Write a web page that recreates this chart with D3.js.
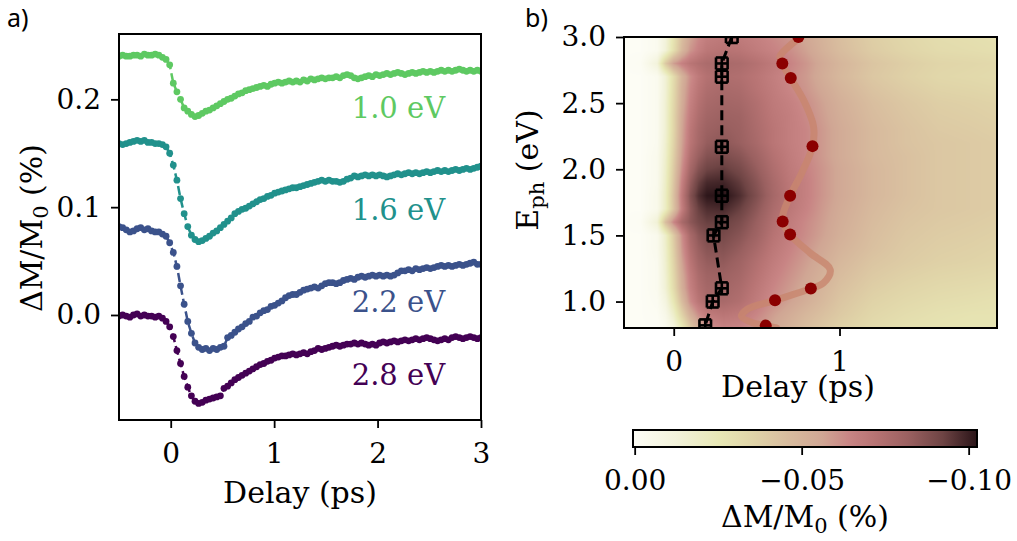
<!DOCTYPE html>
<html>
<head>
<meta charset="utf-8">
<script src="https://cdn.jsdelivr.net/npm/d3@7"></script>
<style>
  body { margin: 0; background: #fff; }
</style>
</head>
<body>
<svg id="fig" width="1017" height="541"></svg>
<script>
// ---------- panel a) : delay traces ----------
var delays = d3.range(101).map(function(i){ return -0.5 + 0.035 * i; });
var traceNames  = ["1.0 eV", "1.6 eV", "2.2 eV", "2.8 eV"];
var traceColors = ["#5ec962", "#21918c", "#3b528b", "#440154"];
var traceLabelY = [0.183, 0.088, 0.003, -0.065];
var traceLabelX = 1.75;

var trace10 = [
  0.240, 0.241, 0.240, 0.240, 0.241, 0.241, 0.240, 0.242, 0.241, 0.241,
  0.242, 0.241, 0.239, 0.237, 0.232, 0.215, 0.207, 0.200, 0.192, 0.189,
  0.186, 0.184, 0.185, 0.187, 0.189, 0.190, 0.192, 0.194, 0.196, 0.198,
  0.200, 0.201, 0.203, 0.205, 0.206, 0.208, 0.209, 0.210, 0.211, 0.212,
  0.213, 0.212, 0.214, 0.215, 0.216, 0.215, 0.216, 0.217, 0.216, 0.217,
  0.216, 0.218, 0.217, 0.219, 0.218, 0.219, 0.220, 0.219, 0.220, 0.220,
  0.221, 0.220, 0.222, 0.223, 0.222, 0.220, 0.219, 0.220, 0.221, 0.222,
  0.221, 0.223, 0.222, 0.223, 0.224, 0.223, 0.224, 0.225, 0.224, 0.223,
  0.224, 0.225, 0.224, 0.225, 0.226, 0.225, 0.226, 0.225, 0.226, 0.227,
  0.226, 0.227, 0.226, 0.227, 0.228, 0.227, 0.226, 0.227, 0.226, 0.227,
  0.226];
var trace16 = [
  0.159, 0.158, 0.159, 0.160, 0.161, 0.162, 0.161, 0.162, 0.160, 0.160,
  0.159, 0.159, 0.158, 0.156, 0.150, 0.139, 0.125, 0.108, 0.094, 0.082,
  0.074, 0.070, 0.068, 0.069, 0.071, 0.073, 0.076, 0.078, 0.081, 0.084,
  0.087, 0.090, 0.094, 0.096, 0.098, 0.099, 0.101, 0.103, 0.105, 0.107,
  0.108, 0.110, 0.111, 0.113, 0.114, 0.115, 0.116, 0.117, 0.118, 0.118,
  0.119, 0.120, 0.121, 0.122, 0.123, 0.124, 0.125, 0.124, 0.125, 0.124,
  0.124, 0.123, 0.124, 0.126, 0.127, 0.129, 0.128, 0.129, 0.130, 0.129,
  0.130, 0.129, 0.130, 0.129, 0.128, 0.129, 0.130, 0.131, 0.130, 0.131,
  0.132, 0.131, 0.132, 0.131, 0.132, 0.133, 0.132, 0.133, 0.134, 0.133,
  0.134, 0.133, 0.134, 0.135, 0.134, 0.135, 0.136, 0.135, 0.136, 0.137,
  0.138];
var trace22 = [
  0.082, 0.081, 0.079, 0.077, 0.078, 0.080, 0.081, 0.079, 0.080, 0.078,
  0.077, 0.077, 0.075, 0.073, 0.067, 0.058, 0.045, 0.027, 0.010, -0.006,
  -0.017, -0.026, -0.030, -0.032, -0.031, -0.033, -0.031, -0.032, -0.030, -0.029,
  -0.021, -0.019, -0.016, -0.013, -0.011, -0.008, -0.006, -0.002, -0.001, 0.002,
  0.004, 0.005, 0.008, 0.009, 0.011, 0.013, 0.016, 0.018, 0.019, 0.019,
  0.021, 0.023, 0.024, 0.025, 0.026, 0.025, 0.027, 0.029, 0.030, 0.030,
  0.029, 0.030, 0.032, 0.033, 0.034, 0.033, 0.035, 0.036, 0.035, 0.036,
  0.037, 0.036, 0.037, 0.036, 0.037, 0.036, 0.037, 0.039, 0.041, 0.041,
  0.042, 0.041, 0.043, 0.042, 0.043, 0.044, 0.043, 0.044, 0.045, 0.046,
  0.045, 0.046, 0.045, 0.046, 0.047, 0.046, 0.047, 0.048, 0.049, 0.047,
  0.047];
var trace28 = [
  -0.001, 0.000, -0.001, -0.002, 0.000, 0.001, -0.001, 0.000, -0.001, -0.001,
  -0.002, -0.001, -0.003, -0.006, -0.011, -0.020, -0.033, -0.045, -0.057, -0.067,
  -0.075, -0.080, -0.082, -0.081, -0.079, -0.078, -0.077, -0.076, -0.075, -0.068,
  -0.066, -0.063, -0.060, -0.058, -0.056, -0.054, -0.052, -0.050, -0.048, -0.046,
  -0.045, -0.043, -0.042, -0.040, -0.039, -0.038, -0.038, -0.037, -0.036, -0.037,
  -0.036, -0.035, -0.036, -0.034, -0.033, -0.031, -0.032, -0.031, -0.030, -0.029,
  -0.028, -0.029, -0.028, -0.027, -0.027, -0.026, -0.027, -0.026, -0.027, -0.028,
  -0.027, -0.028, -0.026, -0.025, -0.026, -0.025, -0.024, -0.025, -0.024, -0.023,
  -0.024, -0.023, -0.022, -0.023, -0.022, -0.021, -0.022, -0.023, -0.024, -0.023,
  -0.022, -0.023, -0.021, -0.020, -0.021, -0.022, -0.021, -0.020, -0.021, -0.022,
  -0.021];
var traces = [trace10, trace16, trace22, trace28];

// ---------- panel b) : map E_ph vs delay ----------
var hmDelays = [-0.3, -0.2, -0.1, -0.05, 0, 0.05, 0.1, 0.15, 0.2, 0.3, 0.4, 0.5,
                0.6, 0.7, 0.8, 0.9, 1.0, 1.2, 1.4, 1.6, 1.8, 1.95];
var hmEnergies = [3.0, 2.9, 2.8, 2.7, 2.6, 2.5, 2.4, 2.3, 2.2, 2.1, 2.0, 1.9,
                  1.8, 1.7, 1.6, 1.5, 1.4, 1.3, 1.2, 1.1, 1.0, 0.9, 0.8];
var hmValues = [
  [0, 0, -0.003, -0.012, -0.028, -0.045, -0.056, -0.063, -0.067, -0.069, -0.068, -0.066, -0.063, -0.060, -0.055, -0.050, -0.045, -0.038, -0.034, -0.031, -0.030, -0.029],
  [0, 0, -0.003, -0.013, -0.030, -0.048, -0.060, -0.066, -0.070, -0.072, -0.071, -0.068, -0.065, -0.062, -0.057, -0.051, -0.046, -0.039, -0.035, -0.032, -0.031, -0.030],
  [0, -0.001, -0.012, -0.040, -0.058, -0.066, -0.071, -0.074, -0.076, -0.077, -0.076, -0.073, -0.069, -0.065, -0.060, -0.054, -0.049, -0.042, -0.038, -0.035, -0.034, -0.033],
  [0, 0, -0.003, -0.014, -0.032, -0.050, -0.062, -0.069, -0.073, -0.075, -0.074, -0.071, -0.067, -0.063, -0.059, -0.053, -0.048, -0.041, -0.037, -0.034, -0.033, -0.032],
  [0, 0, -0.003, -0.014, -0.033, -0.052, -0.064, -0.071, -0.075, -0.077, -0.076, -0.072, -0.068, -0.064, -0.060, -0.055, -0.050, -0.043, -0.039, -0.036, -0.035, -0.034],
  [0, 0, -0.003, -0.015, -0.034, -0.053, -0.066, -0.073, -0.077, -0.079, -0.078, -0.074, -0.069, -0.066, -0.062, -0.057, -0.052, -0.045, -0.041, -0.038, -0.037, -0.036],
  [0, 0, -0.003, -0.015, -0.035, -0.055, -0.068, -0.075, -0.079, -0.081, -0.080, -0.075, -0.070, -0.067, -0.063, -0.058, -0.053, -0.046, -0.042, -0.039, -0.038, -0.037],
  [0, 0, -0.003, -0.015, -0.035, -0.056, -0.070, -0.077, -0.081, -0.083, -0.081, -0.076, -0.071, -0.067, -0.064, -0.059, -0.054, -0.047, -0.043, -0.040, -0.039, -0.038],
  [0, 0, -0.003, -0.016, -0.036, -0.057, -0.071, -0.078, -0.083, -0.085, -0.082, -0.077, -0.071, -0.067, -0.064, -0.059, -0.054, -0.047, -0.043, -0.041, -0.040, -0.039],
  [0, 0, -0.004, -0.017, -0.038, -0.059, -0.074, -0.082, -0.087, -0.089, -0.086, -0.080, -0.073, -0.068, -0.064, -0.059, -0.054, -0.047, -0.044, -0.041, -0.040, -0.039],
  [0, 0, -0.004, -0.018, -0.040, -0.062, -0.078, -0.087, -0.092, -0.094, -0.090, -0.083, -0.075, -0.069, -0.065, -0.060, -0.055, -0.048, -0.044, -0.041, -0.040, -0.039],
  [0, 0, -0.004, -0.019, -0.042, -0.066, -0.083, -0.093, -0.098, -0.099, -0.094, -0.086, -0.077, -0.070, -0.066, -0.060, -0.055, -0.048, -0.044, -0.041, -0.040, -0.039],
  [0, 0, -0.005, -0.020, -0.044, -0.069, -0.087, -0.097, -0.102, -0.103, -0.097, -0.088, -0.078, -0.071, -0.066, -0.060, -0.055, -0.048, -0.044, -0.041, -0.040, -0.039],
  [0, 0, -0.005, -0.020, -0.043, -0.067, -0.084, -0.093, -0.097, -0.098, -0.093, -0.085, -0.076, -0.070, -0.065, -0.059, -0.054, -0.047, -0.043, -0.041, -0.040, -0.039],
  [0, -0.001, -0.014, -0.045, -0.064, -0.077, -0.085, -0.090, -0.093, -0.093, -0.089, -0.082, -0.074, -0.068, -0.063, -0.058, -0.053, -0.046, -0.042, -0.040, -0.039, -0.038],
  [0, 0, -0.004, -0.018, -0.040, -0.062, -0.077, -0.085, -0.089, -0.090, -0.086, -0.080, -0.072, -0.067, -0.062, -0.057, -0.052, -0.045, -0.041, -0.039, -0.038, -0.037],
  [0, 0, -0.004, -0.017, -0.038, -0.060, -0.074, -0.082, -0.086, -0.087, -0.083, -0.077, -0.070, -0.065, -0.060, -0.055, -0.050, -0.044, -0.040, -0.038, -0.037, -0.036],
  [0, 0, -0.003, -0.016, -0.036, -0.057, -0.071, -0.079, -0.083, -0.084, -0.080, -0.074, -0.068, -0.063, -0.058, -0.053, -0.048, -0.042, -0.039, -0.037, -0.036, -0.035],
  [0, 0, -0.003, -0.015, -0.034, -0.054, -0.068, -0.076, -0.080, -0.081, -0.078, -0.072, -0.066, -0.061, -0.056, -0.051, -0.046, -0.040, -0.037, -0.035, -0.034, -0.033],
  [0, 0, -0.003, -0.014, -0.032, -0.052, -0.066, -0.074, -0.078, -0.079, -0.076, -0.070, -0.064, -0.059, -0.054, -0.049, -0.044, -0.038, -0.035, -0.033, -0.032, -0.031],
  [0, 0, -0.002, -0.010, -0.026, -0.046, -0.062, -0.071, -0.076, -0.077, -0.074, -0.068, -0.062, -0.057, -0.052, -0.047, -0.042, -0.036, -0.033, -0.031, -0.030, -0.029],
  [0, 0, -0.001, -0.006, -0.018, -0.036, -0.052, -0.062, -0.068, -0.071, -0.069, -0.064, -0.058, -0.053, -0.048, -0.044, -0.040, -0.034, -0.031, -0.029, -0.028, -0.028],
  [0, 0, 0, -0.003, -0.010, -0.024, -0.040, -0.052, -0.060, -0.065, -0.064, -0.060, -0.055, -0.050, -0.045, -0.041, -0.037, -0.032, -0.029, -0.028, -0.027, -0.027]
];

// fitted delays with error bars (black) and maxima (red)
var fitEnergy = [3.0, 2.8, 2.7, 2.17, 1.8, 1.6, 1.5, 1.1, 1.0, 0.82];
var fitDelay  = [0.35, 0.29, 0.29, 0.29, 0.29, 0.29, 0.24, 0.29, 0.235, 0.19];
var fitDelayErr = 0.035;
var fitEnergyErr = 0.045;
var maxDelay  = [0.752, 0.655, 0.706, 0.837, 0.702, 0.657, 0.702, 0.827, 0.611, 0.555];
var maxEnergy = [3.0, 2.8, 2.69, 2.175, 1.80, 1.606, 1.506, 1.098, 1.009, 0.818];
// smooth guide through the maxima
var guideDelay  = [0.80, 0.742, 0.641, 0.655, 0.706, 0.782, 0.843, 0.837, 0.772, 0.702, 0.661, 0.657,
                   0.702, 0.823, 0.944, 0.903, 0.827, 0.611, 0.440, 0.409, 0.480, 0.555, 0.62];
var guideEnergy = [3.05, 2.98, 2.853, 2.798, 2.687, 2.526, 2.325, 2.173, 1.972, 1.80, 1.669, 1.606,
                   1.506, 1.367, 1.241, 1.14, 1.098, 1.009, 0.939, 0.888, 0.838, 0.818, 0.80];

// colour map (white -> yellow -> pink -> dark)
var cmapT = [0, 0.12, 0.25, 0.35, 0.45, 0.55, 0.63, 0.70, 0.80, 0.90, 1.0];
var cmapC = ["#fdfdf6", "#f3f3dc", "#e8e8b5", "#e0d4a8", "#d8bc9e", "#d0a694",
             "#c88484", "#b87474", "#9a6060", "#6e4444", "#2a1418"];
var cmin = 0.0005, cmax = -0.1025;

// ---------------- drawing ----------------
var svg = d3.select("#fig");
var serif = "DejaVu Serif";
var tickFont = 28, labelFont = 30;

function styleAxis(g) {
  g.select(".domain").remove();
  g.attr("font-family", serif).attr("font-size", tickFont);
  g.selectAll(".tick line").attr("stroke", "#000").attr("stroke-width", 1.8);
  g.selectAll(".tick text").attr("fill", "#000");
}

var defs = svg.append("defs");

// ----- panel a -----
var xa = d3.scaleLinear().domain([-0.5, 3]).range([119, 481]);
var ya = d3.scaleLinear().domain([-0.0974, 0.2606]).range([420, 34]);

defs.append("clipPath").attr("id", "clipA").append("rect")
  .attr("x", 119).attr("y", 34).attr("width", 362).attr("height", 386);

var ga = svg.append("g").attr("clip-path", "url(#clipA)");
traces.forEach(function(vals, k) {
  var pts = vals.map(function(v, i){ return [delays[i], v]; });
  ga.append("path").datum(pts)
    .attr("d", d3.line().x(function(d){ return xa(d[0]); }).y(function(d){ return ya(d[1]); }))
    .attr("fill", "none").attr("stroke", traceColors[k])
    .attr("stroke-width", 2.5).attr("stroke-dasharray", "9,4");
  ga.append("g").selectAll("circle").data(pts).enter().append("circle")
    .attr("cx", function(d){ return xa(d[0]); })
    .attr("cy", function(d){ return ya(d[1]); })
    .attr("r", 3.4).attr("fill", traceColors[k]);
});

traceNames.forEach(function(name, k) {
  svg.append("text").attr("x", xa(traceLabelX)).attr("y", ya(traceLabelY[k]))
    .attr("font-family", serif).attr("font-size", 29)
    .attr("fill", traceColors[k]).text(name);
});

svg.append("g").attr("transform", "translate(0,420)")
  .call(d3.axisBottom(xa).tickValues([0, 1, 2, 3]).tickFormat(d3.format("d"))
        .tickSize(8).tickPadding(15))
  .call(styleAxis);
svg.append("g").attr("transform", "translate(119,0)")
  .call(d3.axisLeft(ya).tickValues([0, 0.1, 0.2]).tickFormat(d3.format(".1f"))
        .tickSize(8).tickPadding(10))
  .call(styleAxis);
svg.append("rect").attr("x", 119).attr("y", 34).attr("width", 362).attr("height", 386)
  .attr("fill", "none").attr("stroke", "#000").attr("stroke-width", 2);

svg.append("text").attr("x", 300).attr("y", 503).attr("text-anchor", "middle")
  .attr("font-family", serif).attr("font-size", labelFont).text("Delay (ps)");
var yla = svg.append("text").attr("transform", "translate(42,228) rotate(-90)")
  .attr("text-anchor", "middle").attr("font-family", serif).attr("font-size", labelFont);
yla.append("tspan").text("ΔM/M");
yla.append("tspan").attr("font-size", 21).attr("dy", 6).text("0");
yla.append("tspan").attr("dy", -6).text(" (%)");

svg.append("text").attr("x", 7).attr("y", 27).attr("font-family", "Noto Sans")
  .attr("font-size", 25).text("a)");

// ----- panel b -----
var bx0 = 624, bx1 = 997, by0 = 37, by1 = 328;
var xb = d3.scaleLinear().domain([-0.3, 1.95]).range([bx0, bx1]);
var yb = d3.scaleLinear().domain([0.8, 3.0]).range([by1, by0]);
var cmap = d3.scaleLinear()
  .domain(cmapT.map(function(t){ return cmin + t * (cmax - cmin); }))
  .range(cmapC).interpolate(d3.interpolateRgb).clamp(true);

function sampleMap(d, e) {
  var nj = hmDelays.length, ni = hmEnergies.length;
  var j = Math.max(0, Math.min(nj - 2, d3.bisectRight(hmDelays, d) - 1));
  var fx = Math.max(0, Math.min(1, (d - hmDelays[j]) / (hmDelays[j + 1] - hmDelays[j])));
  var i = 0;
  while (i < ni - 2 && e < hmEnergies[i + 1]) i++;
  var fy = Math.max(0, Math.min(1, (hmEnergies[i] - e) / (hmEnergies[i] - hmEnergies[i + 1])));
  var a = hmValues[i][j] * (1 - fx) + hmValues[i][j + 1] * fx;
  var b = hmValues[i + 1][j] * (1 - fx) + hmValues[i + 1][j + 1] * fx;
  return a * (1 - fy) + b * fy;
}

var cw = bx1 - bx0, ch = by1 - by0;
var canvas = document.createElement("canvas");
canvas.width = cw; canvas.height = ch;
var ctx = canvas.getContext("2d");
var img = ctx.createImageData(cw, ch);
for (var py = 0; py < ch; py++) {
  var e = yb.invert(by0 + py + 0.5);
  for (var px = 0; px < cw; px++) {
    var d = xb.invert(bx0 + px + 0.5);
    var c = d3.rgb(cmap(sampleMap(d, e)));
    var o = (py * cw + px) * 4;
    img.data[o] = c.r; img.data[o + 1] = c.g; img.data[o + 2] = c.b; img.data[o + 3] = 255;
  }
}
ctx.putImageData(img, 0, 0);
svg.append("image").attr("x", bx0).attr("y", by0).attr("width", cw).attr("height", ch)
  .attr("preserveAspectRatio", "none").attr("href", canvas.toDataURL());

defs.append("clipPath").attr("id", "clipB").append("rect")
  .attr("x", bx0).attr("y", by0).attr("width", cw).attr("height", ch);
var gb = svg.append("g").attr("clip-path", "url(#clipB)");

var guidePts = guideDelay.map(function(v, i){ return [v, guideEnergy[i]]; });
gb.append("path").datum(guidePts)
  .attr("d", d3.line().curve(d3.curveCatmullRom.alpha(0.5))
        .x(function(d){ return xb(d[0]); }).y(function(d){ return yb(d[1]); }))
  .attr("fill", "none").attr("stroke", "#c8866e").attr("stroke-opacity", 0.8)
  .attr("stroke-width", 7).attr("stroke-linecap", "round");

gb.selectAll("circle.max").data(maxDelay.map(function(v, i){ return [v, maxEnergy[i]]; }))
  .enter().append("circle").attr("class", "max")
  .attr("cx", function(d){ return xb(d[0]); }).attr("cy", function(d){ return yb(d[1]); })
  .attr("r", 6).attr("fill", "#8b0000");

var fitPts = fitDelay.map(function(v, i){ return [v, fitEnergy[i]]; });
gb.append("path").datum(fitPts)
  .attr("d", d3.line().x(function(d){ return xb(d[0]); }).y(function(d){ return yb(d[1]); }))
  .attr("fill", "none").attr("stroke", "#000").attr("stroke-width", 3)
  .attr("stroke-dasharray", "10,5");
var cap = 6;
var eb = gb.append("g").attr("stroke", "#000").attr("stroke-width", 2.6);
fitPts.forEach(function(p) {
  var cx = xb(p[0]), cy = yb(p[1]);
  var xl = xb(p[0] - fitDelayErr), xr = xb(p[0] + fitDelayErr);
  var yt = yb(p[1] + fitEnergyErr), ybt = yb(p[1] - fitEnergyErr);
  eb.append("line").attr("x1", xl).attr("x2", xr).attr("y1", cy).attr("y2", cy);
  eb.append("line").attr("x1", xl).attr("x2", xl).attr("y1", cy - cap).attr("y2", cy + cap);
  eb.append("line").attr("x1", xr).attr("x2", xr).attr("y1", cy - cap).attr("y2", cy + cap);
  eb.append("line").attr("x1", cx).attr("x2", cx).attr("y1", yt).attr("y2", ybt);
  eb.append("line").attr("x1", cx - cap).attr("x2", cx + cap).attr("y1", yt).attr("y2", yt);
  eb.append("line").attr("x1", cx - cap).attr("x2", cx + cap).attr("y1", ybt).attr("y2", ybt);
});

svg.append("g").attr("transform", "translate(0," + by1 + ")")
  .call(d3.axisBottom(xb).tickValues([0, 1]).tickFormat(d3.format("d"))
        .tickSize(8).tickPadding(15))
  .call(styleAxis);
svg.append("g").attr("transform", "translate(" + bx0 + ",0)")
  .call(d3.axisLeft(yb).tickValues([1.0, 1.5, 2.0, 2.5, 3.0]).tickFormat(d3.format(".1f"))
        .tickSize(8).tickPadding(10))
  .call(styleAxis);
svg.append("rect").attr("x", bx0).attr("y", by0).attr("width", cw).attr("height", ch)
  .attr("fill", "none").attr("stroke", "#000").attr("stroke-width", 2);

svg.append("text").attr("x", 798).attr("y", 397).attr("text-anchor", "middle")
  .attr("font-family", serif).attr("font-size", labelFont).text("Delay (ps)");
var ylb = svg.append("text").attr("transform", "translate(538,170) rotate(-90)")
  .attr("text-anchor", "middle").attr("font-family", serif).attr("font-size", labelFont);
ylb.append("tspan").text("E");
ylb.append("tspan").attr("font-size", 21).attr("dy", 6).text("ph");
ylb.append("tspan").attr("dy", -6).text(" (eV)");

svg.append("text").attr("x", 525).attr("y", 27).attr("font-family", "Noto Sans")
  .attr("font-size", 25).text("b)");

// ----- colour bar -----
var cbx0 = 633, cbx1 = 977, cby0 = 430, cby1 = 447;
var xc = d3.scaleLinear().domain([cmin, cmax]).range([cbx0, cbx1]);
var grad = defs.append("linearGradient").attr("id", "cbGrad")
  .attr("x1", "0%").attr("x2", "100%").attr("y1", "0%").attr("y2", "0%");
d3.range(41).forEach(function(k) {
  var t = k / 40;
  grad.append("stop").attr("offset", (t * 100) + "%")
    .attr("stop-color", cmap(cmin + t * (cmax - cmin)));
});
svg.append("rect").attr("x", cbx0).attr("y", cby0).attr("width", cbx1 - cbx0)
  .attr("height", cby1 - cby0).attr("fill", "url(#cbGrad)")
  .attr("stroke", "#000").attr("stroke-width", 2);
svg.append("g").attr("transform", "translate(0," + cby1 + ")")
  .call(d3.axisBottom(xc).tickValues([0, -0.05, -0.1]).tickFormat(d3.format(".2f"))
        .tickSize(8).tickPadding(15))
  .call(styleAxis);
var cbl = svg.append("text").attr("x", 805).attr("y", 527).attr("text-anchor", "middle")
  .attr("font-family", serif).attr("font-size", labelFont);
cbl.append("tspan").text("ΔM/M");
cbl.append("tspan").attr("font-size", 21).attr("dy", 6).text("0");
cbl.append("tspan").attr("dy", -6).text(" (%)");
</script>
</body>
</html>
